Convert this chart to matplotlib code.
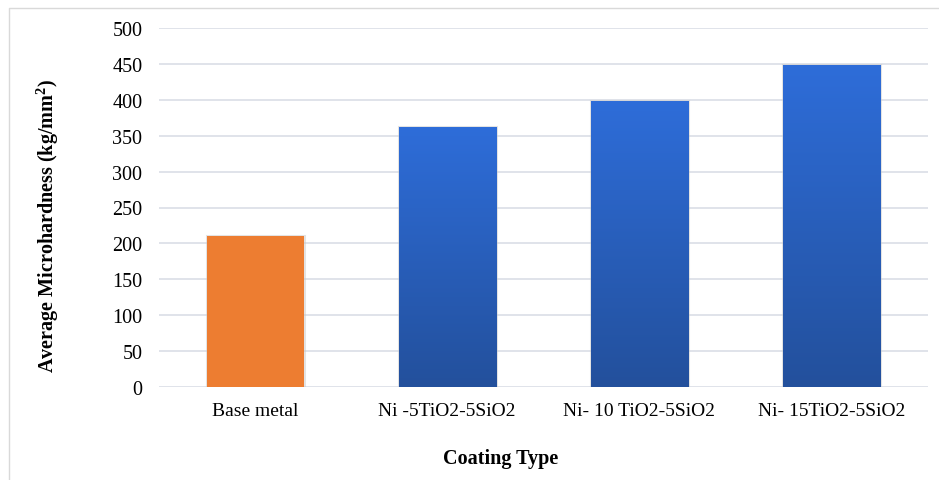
import matplotlib.pyplot as plt
import matplotlib.patches as mpatches
import matplotlib.lines as mlines
import numpy as np
from matplotlib.colors import LinearSegmentedColormap

plt.rcParams['font.family'] = ['Liberation Serif', 'DejaVu Serif']

# データ
categories = ['Base metal', 'Ni -5TiO2-5SiO2', 'Ni- 10 TiO2-5SiO2', 'Ni- 15TiO2-5SiO2']
hardness = [210, 362, 398, 449]
yticks = [0, 50, 100, 150, 200, 250, 300, 350, 400, 450, 500]

W, H = 939, 481
fig = plt.figure(figsize=(W / 100, H / 100), dpi=100)
ax = fig.add_axes([159 / W, 1 - 388 / H, (927.5 - 159) / W, (388 - 29) / H])

x = np.arange(len(categories))
colors = ['#ED7D31'] + ['#2A62C4'] * (len(categories) - 1)
bars = ax.bar(x, hardness, width=0.505, color=colors, zorder=3)

# 影っぽい縁
for b in bars:
    sh = mpatches.Rectangle((b.get_x(), 0), b.get_width(), b.get_height(),
                            transform=ax.transData, facecolor='none',
                            edgecolor='#c8c8c8', lw=2.2, alpha=0.5, zorder=2)
    ax.add_patch(sh)

# 青いバーのグラデーション
grad = LinearSegmentedColormap.from_list('g', ['#23509C', '#2E6DD9'])
g = np.linspace(0, 1, 256).reshape(-1, 1)
for b in bars[1:]:
    im = ax.imshow(g, cmap=grad, origin='lower', aspect='auto',
                   extent=[b.get_x(), b.get_x() + b.get_width(), 0, b.get_height()],
                   zorder=4)
    im.set_clip_path(b)

ax.set_xlim(-0.5, len(categories) - 0.5)
ax.set_ylim(0, 500)
ax.set_yticks(yticks)
ax.set_xticks(x)
ax.set_xticklabels(categories, fontsize=14)
ax.tick_params(axis='y', labelsize=14.5, length=0, pad=12)
ax.tick_params(axis='x', length=0, pad=11)
ax.grid(axis='y', color='#dde1e8', lw=1.3, zorder=0)
for s in ax.spines.values():
    s.set_visible(False)

ax.set_ylabel('Average Microhardness (kg/mm$^\\mathregular{2}$)', fontsize=14.5, fontweight='bold')
ax.yaxis.set_label_coords((61 - 159) / (927.5 - 159), 0.45)
ax.set_xlabel('Coating Type', fontsize=14.5, fontweight='bold')
ax.xaxis.set_label_coords(0.445, -(449 - 388) / (388 - 29))

# 外枠（上と左のみ見えている）
fx0, fy0 = 8.5 / W, 1 - 9 / H
fig.lines.append(mlines.Line2D([fx0, fx0, 1], [0, fy0, fy0], transform=fig.transFigure,
                               color='#d9d9d9', lw=1))

plt.savefig('out.png', dpi=100)
